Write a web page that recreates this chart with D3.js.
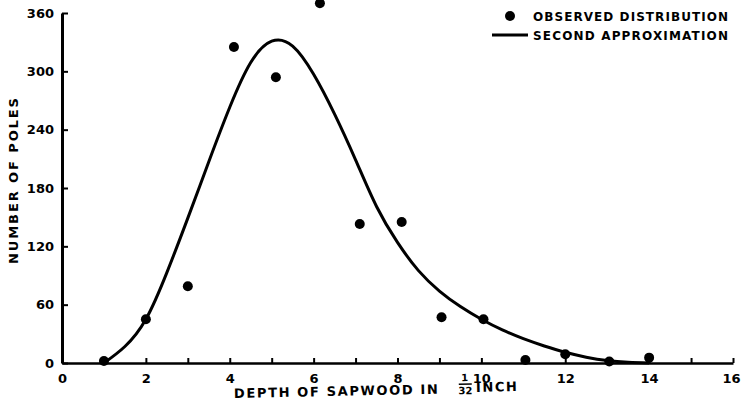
<!DOCTYPE html>
<html>
<head>
<meta charset="utf-8">
<script src="https://cdn.jsdelivr.net/npm/d3@7"></script>
<style>
  html, body { margin: 0; padding: 0; background: #fff; }
  svg { display: block; }
  text { font-family: "DejaVu Sans", sans-serif; font-weight: bold; fill: #000; }
</style>
</head>
<body>
<svg id="chart" width="741" height="407"></svg>
<script>
// Observed distribution (depth in 1/32 inch, number of poles)
const obsDepth = [1, 2, 3, 4.1, 5.1, 6.15, 7.1, 8.1, 9.05, 10.05, 11.05, 12, 13.05, 14];
const obsPoles = [2, 45, 79, 325, 294, 370, 143, 145, 47, 45, 3, 9, 1.5, 5.5];

// Second approximation curve
const approxDepth = [1, 1.5, 2, 2.5, 3, 3.5, 4, 4.5, 5, 5.5, 6, 6.5, 7, 7.5, 8, 8.5, 9, 9.5, 10, 10.5, 11, 11.5, 12, 12.5, 13, 13.5, 14];
const approxPoles = [0, 17, 45, 93, 149, 207, 263, 309, 331, 326, 297, 256, 209, 161, 124, 95, 74, 58, 45, 34, 25, 17.5, 11, 6, 2.5, 0.7, 0];

const xTicks = d3.range(0, 17, 1);
const yTicks = [0, 60, 120, 180, 240, 300, 360];

const svg = d3.select("#chart");
const x = d3.scaleLinear().domain([0, 16]).range([62, 733]);
const y = d3.scaleLinear().domain([0, 360]).range([363, 13]);

// Y axis
const yAxis = svg.append("g")
  .attr("transform", `translate(${x(0)},0)`)
  .call(d3.axisLeft(y).tickValues(yTicks).tickSize(-6).tickSizeOuter(0).tickPadding(8));
yAxis.select(".domain").attr("stroke", "#000").attr("stroke-width", 3);
yAxis.selectAll(".tick line").attr("stroke", "#000").attr("stroke-width", 2);
yAxis.selectAll(".tick text")
  .style("font-size", "13px")
  .attr("fill", "#000");

// X axis
const xAxis = svg.append("g")
  .attr("transform", `translate(0,${y(0)})`)
  .call(d3.axisBottom(x).tickValues(xTicks).tickSize(-5).tickSizeOuter(0)
    .tickFormat(d => d % 2 === 0 ? d : ""));
xAxis.select(".domain").attr("stroke", "#000").attr("stroke-width", 2.5);
xAxis.selectAll(".tick line").attr("stroke", "#000").attr("stroke-width", 2);
xAxis.selectAll(".tick text")
  .attr("dy", null).attr("y", 20)
  .style("font-size", "13px")
  .attr("fill", "#000");
xAxis.selectAll(".tick text").filter(d => d === 16).attr("x", -2);

// Curve
const line = d3.line()
  .x((d, i) => x(approxDepth[i]))
  .y(d => y(d))
  .curve(d3.curveNatural);
svg.append("path")
  .datum(approxPoles)
  .attr("d", line)
  .attr("fill", "none")
  .attr("stroke", "#000")
  .attr("stroke-width", 3);

// Observed points
svg.append("g").selectAll("circle")
  .data(obsPoles)
  .join("circle")
  .attr("cx", (d, i) => x(obsDepth[i]))
  .attr("cy", d => y(d))
  .attr("r", 5)
  .attr("fill", "#000");

// Y axis title
svg.append("text")
  .attr("transform", "translate(18,181) rotate(-90)")
  .attr("text-anchor", "middle")
  .attr("textLength", 166)
  .attr("lengthAdjust", "spacing")
  .style("font-size", "13px")
  .text("NUMBER OF POLES");

// X axis title
const xt = svg.append("g").attr("transform", "rotate(-1.2, 234, 397)");
xt.append("text")
  .attr("x", 234).attr("y", 398)
  .attr("textLength", 204).attr("lengthAdjust", "spacing")
  .style("font-size", "13px")
  .text("DEPTH OF SAPWOOD IN");
xt.append("text")
  .attr("x", 465).attr("y", 386)
  .attr("text-anchor", "middle")
  .style("font-size", "10px")
  .text("1");
xt.append("line")
  .attr("x1", 459).attr("x2", 472).attr("y1", 389).attr("y2", 389)
  .attr("stroke", "#000").attr("stroke-width", 1.5);
xt.append("text")
  .attr("x", 465.5).attr("y", 399)
  .attr("text-anchor", "middle")
  .style("font-size", "10px")
  .text("32");
xt.append("text")
  .attr("x", 476).attr("y", 397)
  .attr("textLength", 41).attr("lengthAdjust", "spacing")
  .style("font-size", "13px")
  .text("INCH");

// Legend
svg.append("circle")
  .attr("cx", 510).attr("cy", 16).attr("r", 5).attr("fill", "#000");
svg.append("text")
  .attr("x", 533).attr("y", 21)
  .attr("textLength", 195).attr("lengthAdjust", "spacing")
  .style("font-size", "12px")
  .text("OBSERVED DISTRIBUTION");
svg.append("line")
  .attr("x1", 492).attr("x2", 528).attr("y1", 35).attr("y2", 35)
  .attr("stroke", "#000").attr("stroke-width", 3);
svg.append("text")
  .attr("x", 533).attr("y", 40)
  .attr("textLength", 195).attr("lengthAdjust", "spacing")
  .style("font-size", "12px")
  .text("SECOND APPROXIMATION");
</script>
</body>
</html>
